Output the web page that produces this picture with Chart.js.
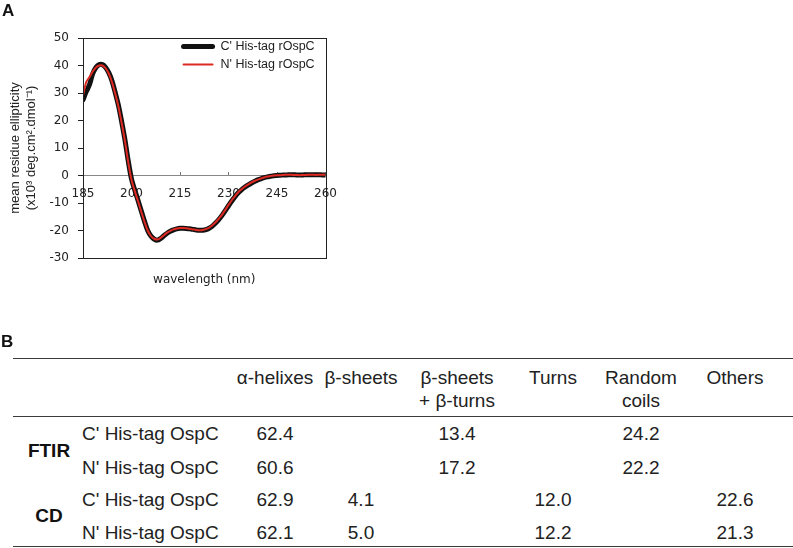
<!DOCTYPE html>
<html>
<head>
<meta charset="utf-8">
<script src="https://cdn.jsdelivr.net/npm/chart.js@4/dist/chart.umd.min.js"></script>
<style>
  html, body { margin: 0; padding: 0; background: #fff; }
  #page { position: relative; width: 793px; height: 548px; overflow: hidden; background: #fff; }
  #cv { position: absolute; left: 0; top: 0; }
  .panel { position: absolute; font-family: 'Liberation Sans', Arial, sans-serif; font-weight: bold; font-size: 17px; color: #111; }
  .t { position: absolute; font-family: 'Liberation Sans', Arial, sans-serif; font-size: 19px; color: #222; white-space: nowrap; line-height: 1; }
  .c { transform: translate(-50%, -50%); }
  .l { transform: translate(0, -50%); }
  .b { font-weight: bold; color: #111; }
  .rule { position: absolute; left: 13px; width: 780px; height: 0; border-top: 1px solid #3a3a3a; }
</style>
</head>
<body>
<div id="page">
  <canvas id="cv" width="352" height="300"></canvas>
  <div class="panel" style="left:2px; top:1px;">A</div>
  <div class="panel" style="left:1px; top:332px;">B</div>
</div>
<script>
// ---------- Panel A data ----------
const wavelengths = [185,186,187,188,189,190,191,192,193,194,195,196,197,198,199,200,201,202,203,204,205,206,207,208,209,210,211,212,213,214,215,216,217,218,219,220,221,222,223,224,225,226,227,228,229,230,231,232,233,234,235,236,237,238,239,240,241,242,243,244,245,246,247,248,249,250,251,252,253,254,255,256,257,258,259,260];
const cHisTag = [27.5,30.5,33.0,37.0,39.3,40.3,40.3,39.3,37.3,34.3,30.0,25.3,19.3,12.8,5.2,-1.3,-5.3,-9.0,-12.8,-16.6,-20.0,-22.0,-23.1,-23.5,-22.9,-21.9,-21.0,-20.3,-19.8,-19.4,-19.2,-19.2,-19.3,-19.4,-19.6,-19.8,-19.9,-19.9,-19.7,-19.2,-18.4,-17.3,-16.0,-14.5,-12.8,-11.0,-9.3,-7.7,-6.3,-5.2,-4.3,-3.5,-2.8,-2.2,-1.6,-1.2,-0.8,-0.5,-0.3,-0.1,0.0,0.1,0.2,0.2,0.3,0.3,0.2,0.2,0.2,0.3,0.3,0.3,0.3,0.3,0.2,0.2];
const nHisTag = [29.0,34.0,35.8,37.8,39.3,40.0,40.0,39.0,37.0,33.8,29.6,24.8,18.8,12.3,4.8,-1.6,-5.6,-9.3,-13.1,-16.8,-20.0,-22.0,-23.0,-23.3,-22.7,-21.7,-20.8,-20.1,-19.6,-19.3,-19.1,-19.1,-19.2,-19.4,-19.6,-19.8,-19.9,-19.8,-19.5,-19.0,-18.1,-17.0,-15.7,-14.2,-12.5,-10.7,-9.0,-7.5,-6.1,-5.0,-4.1,-3.3,-2.6,-2.0,-1.5,-1.1,-0.7,-0.4,-0.2,0.0,0.1,0.1,0.2,0.3,0.3,0.2,0.2,0.1,0.2,0.2,0.3,0.3,0.2,0.3,0.3,0.2];
const seriesNames = ["C' His-tag rOspC", "N' His-tag rOspC"];
const xTicks = [185, 200, 215, 230, 245, 260];
const yTicks = [-30, -20, -10, 0, 10, 20, 30, 40, 50];

// ---------- Panel B data ----------
const structureHeaders = [['α-helixes'], ['β-sheets'], ['β-sheets', '+ β-turns'], ['Turns'], ['Random', 'coils'], ['Others']];
const methods = ['FTIR', 'CD'];
const rowLabels = ["C' His-tag OspC", "N' His-tag OspC", "C' His-tag OspC", "N' His-tag OspC"];
const ftirC = ['62.4', '', '13.4', '', '24.2', ''];
const ftirN = ['60.6', '', '17.2', '', '22.2', ''];
const cdC = ['62.9', '4.1', '', '12.0', '', '22.6'];
const cdN = ['62.1', '5.0', '', '12.2', '', '21.3'];

// ---------- Table layout ----------
const colX = [275, 361, 457, 553, 641, 735];
const headerY = [377, 400];
const rowY = [433, 467, 499, 532];
const methodY = [450, 515];
const methodX = [49, 49];
const rowLabelX = 82;
const ruleY = [358, 416, 546];

const page = document.getElementById('page');
function addText(txt, x, y, cls) {
  const d = document.createElement('div');
  d.className = 't ' + cls;
  d.style.left = x + 'px';
  d.style.top = y + 'px';
  d.textContent = txt;
  page.appendChild(d);
}
ruleY.forEach(y => { const r = document.createElement('div'); r.className = 'rule'; r.style.top = y + 'px'; page.appendChild(r); });
structureHeaders.forEach((lines, i) => lines.forEach((ln, j) => addText(ln, colX[i], headerY[j], 'c')));
methods.forEach((m, i) => addText(m, methodX[i], methodY[i], 'c b'));
rowLabels.forEach((lab, i) => addText(lab, rowLabelX, rowY[i], 'l'));
[ftirC, ftirN, cdC, cdN].forEach((row, r) => row.forEach((v, c) => { if (v !== '') addText(v, colX[c], rowY[r], 'c'); }));

// ---------- Chart ----------
Chart.defaults.font.family = "'DejaVu Sans', Verdana, sans-serif";
Chart.defaults.color = '#222';

const frame = {
  id: 'frame',
  afterDatasetsDraw(chart) {
    const a = chart.chartArea, ctx = chart.ctx;
    ctx.save();
    ctx.strokeStyle = '#222';
    ctx.lineWidth = 1;
    ctx.strokeRect(Math.round(a.left) + 0.5, Math.round(a.top) + 0.5, Math.round(a.right - a.left), Math.round(a.bottom - a.top));
    ctx.restore();
  }
};

// legend drawn inside the plot, top-right, from the datasets' own styles
const insideLegend = {
  id: 'insideLegend',
  afterDraw(chart) {
    const a = chart.chartArea, ctx = chart.ctx;
    ctx.save();
    ctx.font = "12.5px 'Liberation Sans', Arial, sans-serif";
    ctx.textBaseline = 'middle';
    ctx.textAlign = 'left';
    chart.data.datasets.forEach((ds, i) => {
      const y = a.top + 8.5 + 18 * i;
      const x0 = a.right - 142;
      ctx.strokeStyle = ds.borderColor;
      ctx.lineWidth = ds.borderWidth;
      ctx.lineCap = 'round';
      ctx.beginPath();
      ctx.moveTo(x0, y);
      ctx.lineTo(x0 + 29, y);
      ctx.stroke();
      ctx.fillStyle = '#222';
      ctx.fillText(ds.label, a.right - 105, y);
    });
    ctx.restore();
  }
};

new Chart(document.getElementById('cv'), {
  type: 'line',
  data: {
    datasets: [
      {
        label: seriesNames[0],
        data: wavelengths.map((w, i) => ({ x: w, y: cHisTag[i] })),
        borderColor: '#111',
        backgroundColor: '#111',
        borderWidth: 5,
        borderCapStyle: 'round',
        borderJoinStyle: 'round',
        pointRadius: 0,
        tension: 0.3,
        order: 2
      },
      {
        label: seriesNames[1],
        data: wavelengths.map((w, i) => ({ x: w, y: nHisTag[i] })),
        borderColor: '#de2a22',
        backgroundColor: '#de2a22',
        borderWidth: 2,
        pointRadius: 0,
        tension: 0.3,
        order: 1
      }
    ]
  },
  options: {
    responsive: false,
    animation: false,
    devicePixelRatio: 1,
    layout: { padding: { left: 0, right: 0, top: 38, bottom: 12.6 } },
    scales: {
      x: {
        type: 'linear',
        min: 185, max: 260,
        position: { y: 0 },
        afterBuildTicks(scale) { scale.ticks = xTicks.map(v => ({ value: v })); },
        ticks: { padding: 15, font: { size: 12 }, color: '#222' },
        grid: { drawOnChartArea: false, tickLength: -4, color: '#777' },
        border: { color: '#888', width: 1 }
      },
      y: {
        type: 'linear',
        min: -30, max: 50,
        afterBuildTicks(scale) { scale.ticks = yTicks.map(v => ({ value: v })); },
        afterFit(scale) { scale.width = 83; },
        ticks: { padding: 9, font: { size: 12 }, color: '#222' },
        grid: { drawOnChartArea: false, tickLength: 5, color: '#222' },
        border: { color: '#222', width: 1 },
        title: {
          display: true,
          text: ['mean residue ellipticity', '(x10³ deg.cm².dmol⁻¹)'],
          font: { family: "'Liberation Sans', Arial, sans-serif", size: 13 },
          color: '#222',
          padding: { top: 8, bottom: 4 }
        }
      }
    },
    plugins: {
      legend: { display: false },
      title: {
        display: true,
        position: 'bottom',
        fullSize: false,
        text: 'wavelength (nm)',
        font: { size: 12, weight: 'normal' },
        color: '#222',
        padding: { top: 15, bottom: 0 }
      },
      tooltip: { enabled: false }
    }
  },
  plugins: [frame, insideLegend]
});
</script>
</body>
</html>
